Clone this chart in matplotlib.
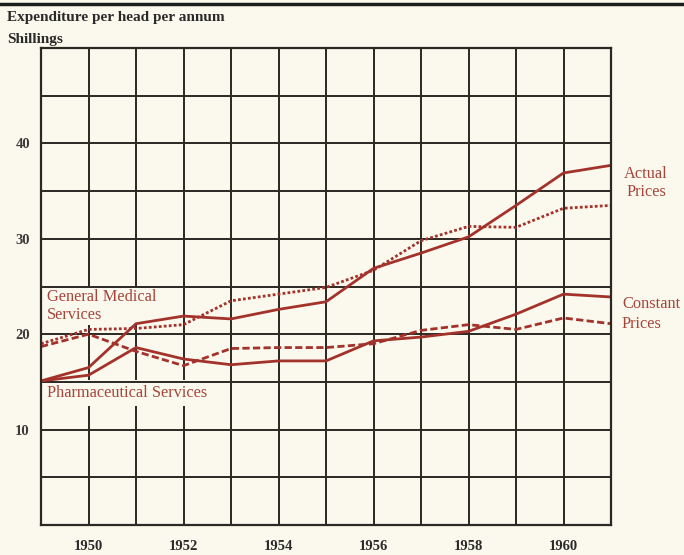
import matplotlib
matplotlib.use("Agg")
import matplotlib.pyplot as plt

years = [1949, 1950, 1951, 1952, 1953, 1954, 1955, 1956, 1957, 1958, 1959, 1960, 1961]
gms_actual = [19.0, 20.5, 20.6, 21.0, 23.5, 24.2, 24.9, 26.7, 29.8, 31.3, 31.2, 33.2, 33.5]
gms_constant = [18.7, 20.0, 18.2, 16.7, 18.5, 18.6, 18.6, 19.0, 20.4, 21.0, 20.5, 21.7, 21.1]
pharm_actual = [15.1, 16.5, 21.1, 21.9, 21.6, 22.6, 23.4, 26.9, 28.5, 30.2, 33.5, 36.9, 37.7]
pharm_constant = [15.1, 15.7, 18.6, 17.4, 16.8, 17.2, 17.2, 19.3, 19.7, 20.3, 22.1, 24.2, 23.9]
xtick_years = [1950, 1952, 1954, 1956, 1958, 1960]
yticks_labelled = [10, 20, 30, 40]

bg = "#fbf9ee"
red = "#a3322b"
txtred = "#a6443a"
grid = "#2b2824"
serif = ["Liberation Serif", "DejaVu Serif"]

fig = plt.figure(figsize=(6.84, 5.55), dpi=100, facecolor=bg)
ax = fig.add_axes([41/684, 1-525/555, (611-41)/684, (525-48)/555])
ax.set_facecolor(bg)
ax.set_xlim(1949, 1961)
ax.set_ylim(0, 50)

for yv in range(0, 51, 5):
    ax.axhline(yv, color=grid, lw=1.4, zorder=2.7)
for xv in years:
    ax.axvline(xv, color=grid, lw=1.4, zorder=1)
for s in ax.spines.values():
    s.set_color(grid)
    s.set_linewidth(1.6)
    s.set_zorder(5)

ax.plot(years, pharm_actual, color=red, lw=2.0, zorder=3)
ax.plot(years, pharm_constant, color=red, lw=2.0, zorder=3)
ax.plot(years, gms_actual, color=red, lw=2.0, linestyle=(0, (1, 0.8)), zorder=3)
ax.plot(years, gms_constant, color=red, lw=2.0, linestyle=(0, (2.6, 1.2)), zorder=3)

ax.set_xticks(xtick_years)
ax.set_xticklabels([str(y) for y in xtick_years], family=serif, fontsize=10.5,
                   fontweight="bold", color="#2a2a2a")
ax.set_yticks(yticks_labelled)
ax.set_yticklabels([str(v) for v in yticks_labelled], family=serif, fontsize=10.5,
                   fontweight="bold", color="#3a3a3a")
ax.tick_params(length=0, pad=11)
ax.tick_params(axis="y", pad=8)

fs = 11.8
ax.text(1949.13, 24.7, "General Medical\nServices", family=serif, fontsize=fs,
        color=txtred, va="top", ha="left", linespacing=1.1, zorder=2.5,
        bbox=dict(facecolor=bg, edgecolor="none", pad=1.5))
ax.text(1949.13, 13.8, "Pharmaceutical Services", family=serif, fontsize=fs,
        color=txtred, va="center", ha="left", zorder=2.5,
        bbox=dict(facecolor=bg, edgecolor="none", pad=3.5))
fig.text(646/684, 1-183/555, "Actual\nPrices", family=serif, fontsize=fs,
         color=txtred, ha="center", va="center", multialignment="center",
         linespacing=1.25)
fig.text(622/684, 1-314/555, "Constant\nPrices", family=serif, fontsize=fs,
         color=txtred, ha="left", va="center", multialignment="left",
         linespacing=1.25)

fig.text(7/684, 1-17/555, "Expenditure per head per annum", family=serif,
         fontsize=11, fontweight="bold", color="#2a2a2a", ha="left", va="center")
fig.text(7/684, 1-39/555, "Shillings", family=serif, fontsize=11,
         fontweight="bold", color="#2a2a2a", ha="left", va="center")
fig.add_artist(plt.Line2D([0, 1], [1-4/555, 1-4/555], color="#1e1e1e", lw=2.5,
                          transform=fig.transFigure))

fig.savefig("out.png", dpi=100, facecolor=bg)
